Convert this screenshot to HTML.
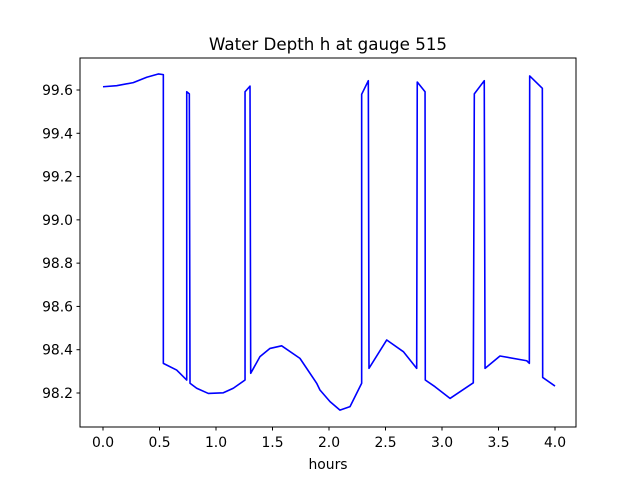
<!DOCTYPE html>
<html><head><meta charset="utf-8"><style>
body{margin:0;background:#fff}
svg text{font-family:"DejaVu Sans","Liberation Sans",sans-serif;fill:#000}
</style></head><body>
<svg id="c" width="640" height="480" xmlns="http://www.w3.org/2000/svg">
<rect width="640" height="480" fill="#fff"/>
<text x="328" y="50" text-anchor="middle" font-size="16.7">Water Depth h at gauge 515</text>
<g id="yt"></g>
<g id="xt"></g>
<path id="line" fill="none" stroke="#0000ff" stroke-width="1.6" stroke-linejoin="round"/>
<rect x="80" y="58" width="496" height="369" fill="none" stroke="#000" stroke-width="1"/>
<text x="328" y="469" text-anchor="middle" font-size="13.9">hours</text>
</svg>
<script>
const hours=[0,0.121,0.268,0.387,0.489,0.534,0.534,0.652,0.741,0.741,0.764,0.770,0.829,0.932,1.065,1.153,1.257,1.257,1.301,1.307,1.389,1.478,1.581,1.743,1.891,1.920,2.009,2.097,2.186,2.289,2.289,2.348,2.354,2.511,2.658,2.776,2.781,2.850,2.852,2.938,3.071,3.277,3.286,3.374,3.381,3.513,3.750,3.773,3.776,3.888,3.891,4.0];
const depth=[99.615,99.620,99.634,99.659,99.674,99.671,98.337,98.306,98.260,99.592,99.582,98.245,98.222,98.198,98.201,98.222,98.260,99.592,99.618,98.291,98.368,98.406,98.418,98.360,98.245,98.214,98.160,98.121,98.137,98.245,99.580,99.643,98.314,98.445,98.391,98.314,99.637,99.592,98.260,98.229,98.175,98.247,99.582,99.643,98.314,98.371,98.349,98.337,99.665,99.608,98.272,98.232];
const xTicks=[0,0.5,1,1.5,2,2.5,3,3.5,4];
const yTicks=[98.2,98.4,98.6,98.8,99.0,99.2,99.4,99.6];
const NS="http://www.w3.org/2000/svg";
const X=h=>103+h*113;
const Y=v=>393-(v-98.2)*216.43;
document.getElementById('line').setAttribute('d',hours.map((h,i)=>(i?'L':'M')+X(h).toFixed(2)+','+Y(depth[i]).toFixed(2)).join(''));
const xt=document.getElementById('xt'),yt=document.getElementById('yt');
xTicks.forEach(t=>{
 const l=document.createElementNS(NS,'line');
 l.setAttribute('x1',X(t));l.setAttribute('x2',X(t));l.setAttribute('y1',427);l.setAttribute('y2',430.5);l.setAttribute('stroke','#000');
 
 
 xt.appendChild(l);
 const s=document.createElementNS(NS,'text');
 s.setAttribute('x',X(t));s.setAttribute('y',447);s.setAttribute('text-anchor','middle');s.setAttribute('font-size','13.9');
 s.textContent=t.toFixed(1);
 
 
 xt.appendChild(s);
});
yTicks.forEach(t=>{
 const l=document.createElementNS(NS,'line');
 l.setAttribute('x1',76.5);l.setAttribute('x2',80);l.setAttribute('y1',Y(t));l.setAttribute('y2',Y(t));l.setAttribute('stroke','#000');
 
 
 yt.appendChild(l);
 const s=document.createElementNS(NS,'text');
 s.setAttribute('x',73);s.setAttribute('y',Y(t)+5);s.setAttribute('text-anchor','end');s.setAttribute('font-size','13.9');
 s.textContent=t.toFixed(1);
 
 
 yt.appendChild(s);
});
</script>
</body></html>
